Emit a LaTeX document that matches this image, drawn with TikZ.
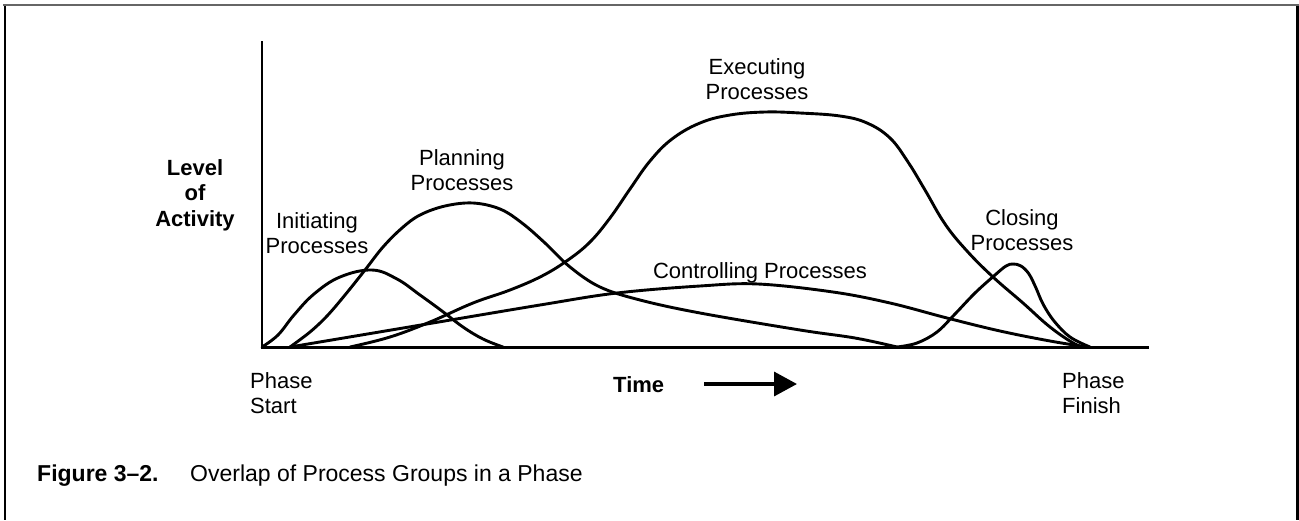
\documentclass[tikz,border=0pt]{standalone}
\usepackage{fontspec}
\setmainfont{Liberation Sans}
\usetikzlibrary{arrows.meta}
\begin{document}
\begin{tikzpicture}[x=1pt,y=-1pt,
  curve/.style={line width=2.9pt, line join=round, line cap=round},
  lbl/.style={font=\fontsize{22pt}{25.5pt}\selectfont, inner sep=0pt, align=center, anchor=north},
  blbl/.style={lbl, font=\fontsize{22pt}{25.5pt}\selectfont\bfseries},
  captext/.style={font=\fontsize{23pt}{27pt}\selectfont, inner sep=0pt, anchor=base west},
]
\useasboundingbox (0,0) rectangle (1299,520);
% frame
\draw[black!60, line width=2.2pt] (3,5) -- (1299,5);
\draw[black, line width=2.6pt] (5,6) -- (5,520);
\draw[black, line width=2.6pt] (1297.5,6) -- (1297.5,520);
% axes
\coordinate (O) at (262,347.5);
\coordinate (Ytop) at (262,41);
\coordinate (Xmid) at (1090,347.5);
\coordinate (Xend) at (1149,347.5);
\draw[line width=2.8pt] (Ytop) -- (262,349);
\draw[line width=3.3pt] (O) -- (Xmid);
\draw[line width=2.2pt] (Xmid) -- (Xend);
% initiating
\draw[curve] plot[smooth, tension=0.65] coordinates {(262,347) (278,335) (294,315) (314,294) (340,277) (372,270) (397,279) (420,295) (442,311) (463,327) (483,339) (503,347)};
% planning
\draw[curve] plot[smooth, tension=0.6] coordinates {(290,347) (310,332) (327,316) (345,295) (365,270) (383,247) (402,228) (420,215) (445,206) (473,203) (500,209) (522,223) (545,243) (570,267) (600,287) (640,300) (700,313) (800,330) (855,338) (897,347)};
% executing
\draw[curve] plot[smooth, tension=0.65] coordinates {(350,347) (390,337) (430,322) (473,303) (510,290) (542,276) (568,260) (590,242) (610,218) (630,189) (650,161) (672,139) (700,123) (730,115) (765,112) (800,113) (840,116) (867,123) (890,138) (908,162) (925,190) (945,224) (967,251) (993,277) (1023,303) (1050,327) (1075,344) (1087,347)};
% controlling
\draw[curve] plot[smooth, tension=0.6] coordinates {(290,347) (415,326) (540,305) (617,293) (700,286) (758,284) (833,292) (890,303) (947,318) (1000,331) (1050,341) (1087,347)};
% closing
\draw[curve] plot[smooth, tension=0.6] coordinates {(897,347) (917,343) (937,332) (955,314) (975,293) (995,275) (1006,266) (1013,264) (1021,266) (1029,274) (1036,288) (1043,304) (1054,321) (1070,337) (1090,347)};
% labels
\node[lbl] (exec) at (757,58) {Executing\\Processes};
\node[lbl] (plan) at (462,149) {Planning\\Processes};
\node[blbl] (level) at (195,159) {Level\\of\\Activity};
\node[lbl] (init) at (317,212) {Initiating\\Processes};
\node[lbl] (close) at (1022,209) {Closing\\Processes};
\node[lbl] (ctrl) at (760,262) {Controlling Processes};
\node[lbl, anchor=north west, align=left] (pstart) at (250,372) {Phase\\Start};
\node[lbl, anchor=north west, align=left] (pfin) at (1062,372) {Phase\\Finish};
\node[blbl, anchor=base west] (time) at (613,392) {Time};
\coordinate (arrS) at (704,384);
\coordinate (arrE) at (797,384);
\draw[line width=3.5pt, -{Triangle[length=23pt,width=24pt]}] (arrS) -- (arrE);
% caption
\node[captext, font=\fontsize{23pt}{27pt}\selectfont\bfseries] (fig) at (37,481) {Figure 3–2.};
\node[captext] (capt) at (190,481) {Overlap of Process Groups in a Phase};
\end{tikzpicture}
\end{document}
